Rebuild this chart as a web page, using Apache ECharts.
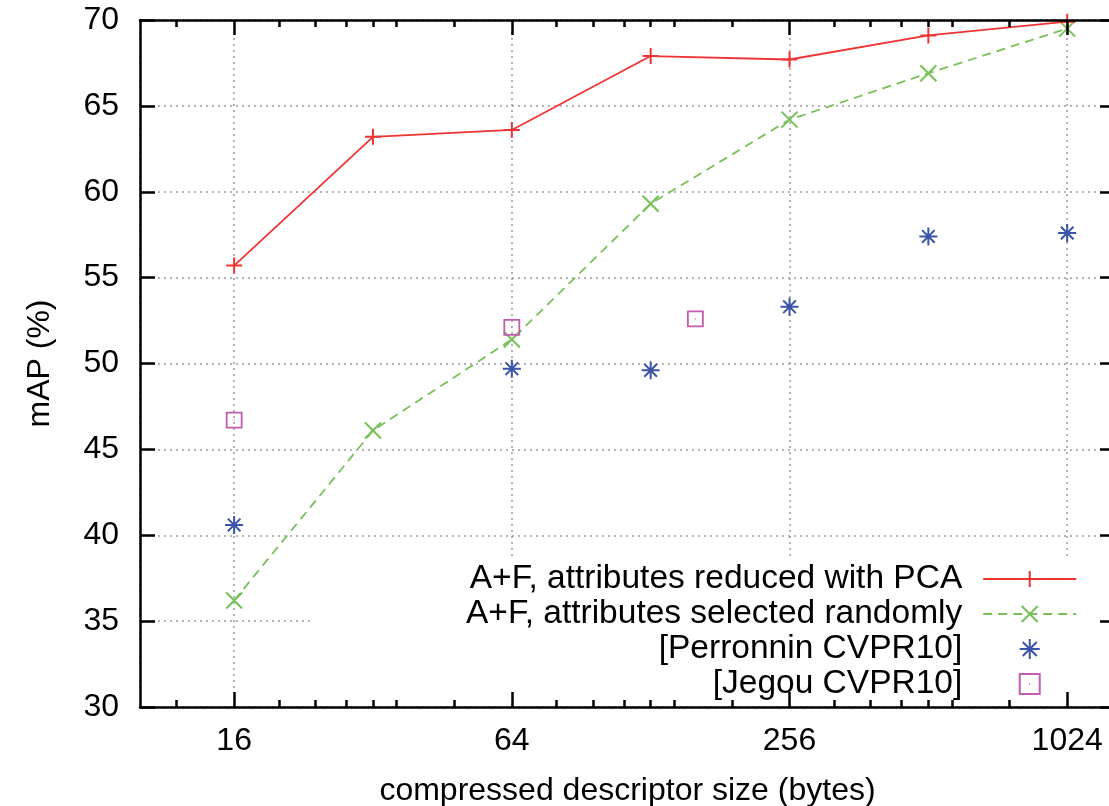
<!DOCTYPE html>
<html lang="en">
<head>
    <meta charset="UTF-8">
    <title>mAP vs compressed descriptor size</title>
    <script src="https://cdn.jsdelivr.net/npm/echarts@6/dist/echarts.min.js"></script>
    <style>
        html, body { margin: 0; padding: 0; background: #fff; }
        #main { width: 1109px; height: 806px; }
    </style>
</head>
<body>
<div id="main"></div>
<script>
    // values (x: bytes, y: mAP %)
    var sizes = [16, 32, 64, 128, 256, 512, 1024];
    var pcaMap = [55.7, 63.2, 63.6, 67.9, 67.7, 69.1, 69.9];
    var randomMap = [36.2, 46.1, 51.4, 59.3, 64.2, 66.9, 69.5];

    var perronninSizes = [16, 64, 128, 256, 512, 1024];
    var perronninMap = [40.6, 49.7, 49.6, 53.3, 57.4, 57.6];

    var jegouSizes = [16, 64, 160];
    var jegouMap = [46.7, 52.1, 52.6];

    // axis ticks
    var xMin = 10, xMax = 1300;
    var xMajorTicks = [16, 64, 256, 1024];
    var xMinorTicks = [12, 20, 24, 28, 32, 36, 48, 80, 96, 112, 128, 144, 192,
        320, 384, 448, 512, 576, 768];

    var names = ['A+F, attributes reduced with PCA', 'A+F, attributes selected randomly',
        '[Perronnin CVPR10]', '[Jegou CVPR10]'];

    var font = "'Liberation Sans', Arial, Helvetica, sans-serif";
    var red = '#f03434', green = '#78c058', blue = '#3a54a8', pink = '#c45cb0';
    var clear = 'rgba(0,0,0,0)';

    function pairs(xs, ys) {
        return xs.map(function (x, i) { return [x, ys[i]]; });
    }
    function log4(v) { return Math.log(v) / Math.log(4); }

    var plusPath = 'path://M10,0L10,20M0,10L20,10';
    var crossPath = 'path://M0,0L20,20M20,0L0,20';
    var starPath = 'path://M10,0L10,20M0,10L20,10M3,3L17,17M17,3L3,17';
    var boxPath = 'path://M1,1L19,1L19,19L1,19ZM9.6,10L10.4,10';

    var black = { color: '#000', width: 2.5 };
    var grid = { show: true, lineStyle: { color: '#9c9c9c', type: [2, 4], width: 1.5 } };

    // overlay axes that only draw the frame and ticks (above the legend box)
    function xTickAxis(pos, ticks, len, line) {
        return {
            type: 'value', min: log4(xMin), max: log4(xMax), position: pos, z: 6,
            axisLine: { show: line, onZero: false, lineStyle: black },
            axisTick: { show: true, inside: true, length: len, customValues: ticks.map(log4), lineStyle: black },
            axisLabel: { show: false }, splitLine: { show: false }
        };
    }
    function yTickAxis(pos) {
        return {
            type: 'value', min: 30, max: 70, interval: 5, position: pos, z: 6,
            axisLine: { show: true, onZero: false, lineStyle: black },
            axisTick: { show: true, inside: true, length: 15, lineStyle: black },
            axisLabel: { show: false }, splitLine: { show: false }
        };
    }

    var myChart = echarts.init(document.getElementById('main'));
    var option = {
        animation: false,
        textStyle: { fontFamily: font },
        grid: { left: 140, top: 20, width: 975, height: 687, containLabel: false, outerBoundsMode: 'none' },
        legend: {
            data: names,
            orient: 'vertical',
            align: 'right',
            left: 312, top: 557,
            padding: [5, 40, 2, 154],
            itemWidth: 93, itemHeight: 20, itemGap: 1,
            backgroundColor: '#fff',
            selectedMode: false,
            z: 4,
            textStyle: { fontFamily: font, fontSize: 33.5, color: '#000', lineHeight: 33, padding: [0, 16, 0, 0] }
        },
        xAxis: [
            {
                type: 'log', logBase: 4, min: xMin, max: xMax, position: 'bottom', z: 0,
                name: 'compressed descriptor size (bytes)', nameLocation: 'middle', nameGap: 68,
                nameTextStyle: { fontFamily: font, fontSize: 32, color: '#000' },
                axisLine: { show: false }, axisTick: { show: false },
                axisLabel: { fontFamily: font, fontSize: 32, color: '#000', margin: 18,
                    showMinLabel: false, showMaxLabel: false,
                    formatter: function (v) { return String(Math.round(v)); } },
                splitLine: grid
            },
            xTickAxis('bottom', xMajorTicks, 15, true),
            xTickAxis('top', xMajorTicks, 15, true),
            xTickAxis('bottom', xMinorTicks, 7, false),
            xTickAxis('top', xMinorTicks, 7, false)
        ],
        yAxis: [
            {
                type: 'value', min: 30, max: 70, interval: 5, position: 'left', z: 0,
                name: 'mAP (%)', nameLocation: 'middle', nameGap: 84,
                nameTextStyle: { fontFamily: font, fontSize: 32, color: '#000' },
                axisLine: { show: false }, axisTick: { show: false },
                axisLabel: { fontFamily: font, fontSize: 32, color: '#000', margin: 21 },
                splitLine: grid
            },
            yTickAxis('left'),
            yTickAxis('right')
        ],
        series: [
            {
                name: names[0], type: 'line', data: pairs(sizes, pcaMap), z: 4,
                symbol: plusPath, symbolSize: 16, showAllSymbol: true,
                lineStyle: { color: red, width: 1.8 },
                itemStyle: { color: clear, borderColor: red, borderWidth: 2 },
                emphasis: { disabled: true }, silent: true
            },
            {
                name: names[1], type: 'line', data: pairs(sizes, randomMap), z: 3,
                symbol: crossPath, symbolSize: 16, showAllSymbol: true,
                lineStyle: { color: green, width: 1.8, type: [9, 6] },
                itemStyle: { color: clear, borderColor: green, borderWidth: 2 },
                emphasis: { disabled: true }, silent: true
            },
            {
                name: names[2], type: 'scatter', data: pairs(perronninSizes, perronninMap), z: 3,
                symbol: starPath, symbolSize: 18,
                itemStyle: { color: clear, borderColor: blue, borderWidth: 2, opacity: 1 },
                emphasis: { disabled: true }, silent: true
            },
            {
                name: names[3], type: 'scatter', data: pairs(jegouSizes, jegouMap), z: 3,
                symbol: boxPath, symbolSize: 15,
                itemStyle: { color: clear, borderColor: pink, borderWidth: 1.8, opacity: 1 },
                emphasis: { disabled: true }, silent: true
            }
        ]
    };
    myChart.setOption(option);
</script>
</body>
</html>
